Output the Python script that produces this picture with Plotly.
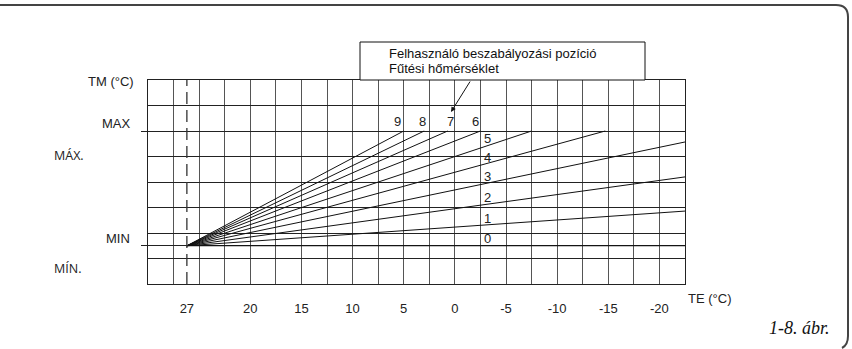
import plotly.graph_objects as go

# ---------------- data ----------------
# outdoor temperature (TE) tick labels
te_tick_values = [20, 15, 10, 5, 0, -5, -10, -15, -20]
te_tick_labels = ["20", "15", "10", "5", "0", "-5", "-10", "-15", "-20"]
# reference (room) line position and its label
ref_te = 26.2
ref_label = "27"

# flow temperature levels (relative units on the chart)
level_min = 1.5
level_max = 6.0
grid_levels = [0, 1, 2, 3, 4, 5, 6, 7, 8]

# heating curves 0..9 : start at (ref_te, level_min) and end at these points
curve_ids = ["0", "1", "2", "3", "4", "5", "6", "7", "8", "9"]
curve_end_te = [-22.5, -22.5, -22.5, -22.5, -14.7, -7.5, -2.5, 0.7, 3.0, 5.0]
curve_end_level = [1.5, 2.86, 4.2, 5.57, 6.0, 6.0, 6.0, 6.0, 6.0, 6.0]

# ---------------- layout helpers ----------------
W, H = 852, 349
L, R, T, B = 148, 685, 80, 284


def pxx(x):
    return (x - L) / (R - L)


def pxy(y):
    return (B - y) / (B - T)


TECH = "Liberation Sans"
fig = go.Figure()

# heating curves
for i, cid in enumerate(curve_ids):
    fig.add_trace(go.Scatter(
        x=[ref_te, curve_end_te[i]], y=[level_min, curve_end_level[i]],
        mode="lines", line=dict(color="#111", width=1),
        hoverinfo="skip", xaxis="x", yaxis="y"))

# dashed reference line
fig.add_trace(go.Scatter(
    x=[ref_te, ref_te], y=[grid_levels[0], grid_levels[-1]],
    mode="lines", line=dict(color="#333", width=1.3, dash="12px,6px"),
    hoverinfo="skip", xaxis="x2", yaxis="y2"))

fig.update_layout(
    width=W, height=H, autosize=False,
    margin=dict(l=L, r=W - R, t=T, b=H - B, pad=0),
    paper_bgcolor="white", plot_bgcolor="white", showlegend=False,
    xaxis=dict(range=[30, -22.5], tickmode="linear", tick0=0, dtick=2.5,
               showgrid=True, gridcolor="#555", gridwidth=1,
               showticklabels=False, ticks="", zeroline=False,
               showline=True, mirror=True, linecolor="#222", linewidth=1),
    xaxis2=dict(overlaying="x", anchor="y", side="bottom", range=[30, -22.5],
                tickmode="array", tickvals=[ref_te] + te_tick_values,
                ticktext=[ref_label] + te_tick_labels,
                showgrid=False, zeroline=False, showline=False,
                ticks="outside", ticklen=12, tickcolor="rgba(0,0,0,0)",
                tickfont=dict(family=TECH, size=13, color="#222")),
    yaxis=dict(range=[0, 8], tickmode="array", tickvals=grid_levels + [level_min],
               showgrid=True, gridcolor="#222", gridwidth=1,
               showticklabels=False, ticks="", zeroline=False,
               showline=True, mirror=True, linecolor="#222", linewidth=1),
    yaxis2=dict(overlaying="y", anchor="x", side="left", range=[0, 8],
                tickmode="array", tickvals=[level_min, level_max],
                showticklabels=False, ticks="outside", ticklen=6,
                tickcolor="#222", tickwidth=1,
                showgrid=False, zeroline=False, showline=False),
)

ann = []


def txt(text, x, y, anchor, family=TECH, size=13, color="#222"):
    ann.append(dict(text=text, x=pxx(x), y=pxy(y), xref="paper", yref="paper",
                    xanchor=anchor, yanchor="middle", showarrow=False,
                    font=dict(family=family, size=size, color=color)))


txt("TM (°C)", 136, 81, "right")
txt("MAX", 133, 123, "right")
txt("MIN", 132, 238, "right")
txt("MÁX.", 52, 155, "left", family="Open Sans", size=12.5)
txt("MÍN.", 52, 268, "left", family="Open Sans", size=12.5)
txt("TE (°C)", 686, 298, "left")
txt("<i>1-8. ábr.</i>", 832, 328, "right", family="Liberation Serif", size=18, color="#111")
txt("Felhasználó beszabályozási pozíció", 387, 53, "left", family="Liberation Sans", size=13, color="#111")
txt("Fűtési hőmérséklet", 387, 68, "left", family="Liberation Sans", size=13, color="#111")

# curve labels
top_pos = {"9": 397, "8": 422, "7": 450, "6": 475}
side_pos = {"5": 138, "4": 157, "3": 176, "2": 197, "1": 218, "0": 238}
for cid in curve_ids:
    if cid in top_pos:
        txt(cid, top_pos[cid], 121, "center")
    else:
        txt(cid, 482, side_pos[cid], "left")

# pointer arrow from the legend box
ann.append(dict(text="", x=pxx(451), y=pxy(112), xref="paper", yref="paper",
                showarrow=True, ax=20, ay=-32, arrowhead=2, arrowsize=1,
                arrowwidth=1, arrowcolor="#111", standoff=0))

fig.update_layout(annotations=ann)

# legend box and outer frame
frame = "M {},{} L {},{} Q {},{} {},{} L {},{} Q {},{} {},{}".format(
    pxx(0), pxy(5), pxx(836), pxy(5), pxx(848), pxy(5), pxx(848), pxy(17),
    pxx(848), pxy(336), pxx(848), pxy(345), pxx(842), pxy(348))
fig.update_layout(shapes=[
    dict(type="rect", xref="paper", yref="paper",
         x0=pxx(360), x1=pxx(645), y0=pxy(80), y1=pxy(42),
         line=dict(color="#111", width=1), fillcolor="white", layer="above"),
    dict(type="path", xref="paper", yref="paper", path=frame,
         line=dict(color="#444", width=2), layer="above"),
])

fig.write_html(
    "out.html",
    config={"displayModeBar": False, "staticPlot": True},
    post_script="document.body.style.margin='0px';document.body.style.overflow='hidden';",
)
